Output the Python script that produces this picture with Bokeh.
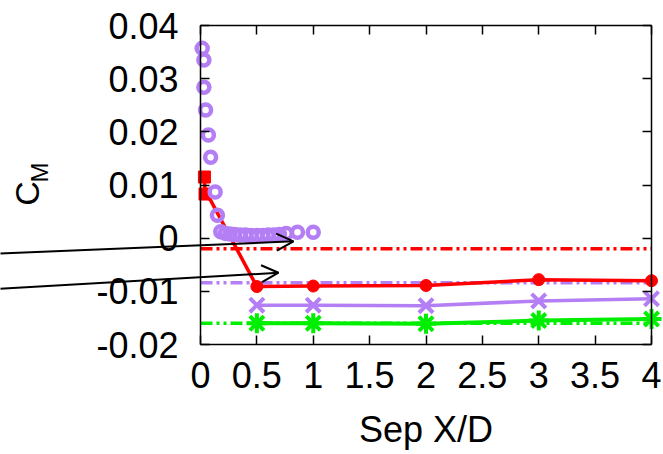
import math
from bokeh.plotting import figure
from bokeh.models import (Range1d, LinearAxis, FixedTicker, Label, Arrow, OpenHead,
                          CustomJSTickFormatter)
from bokeh.embed import file_html
from bokeh.resources import INLINE

# ---------------- data ----------------
x_ticks = [0, 0.5, 1, 1.5, 2, 2.5, 3, 3.5, 4]
x_tick_labels = ["0", "0.5", "1", "1.5", "2", "2.5", "3", "3.5", "4"]
y_ticks = [-0.02, -0.01, 0, 0.01, 0.02, 0.03, 0.04]
y_tick_labels = ["-0.02", "-0.01", "0", "0.01", "0.02", "0.03", "0.04"]
x_min, x_max = 0.0, 4.0
y_min, y_max = -0.02, 0.04

# purple open circles (near field)
circ_x = [0.015, 0.03, 0.03, 0.045, 0.07, 0.09, 0.13, 0.15, 0.18, 0.22, 0.26, 0.3,
          0.35, 0.4, 0.45, 0.5, 0.55, 0.6, 0.65, 0.7, 0.76, 0.86, 1.0]
circ_y = [0.0357, 0.0335, 0.0284, 0.0241, 0.0194, 0.0152, 0.0087, 0.0043, 0.0012,
          0.0009, 0.0008, 0.0007, 0.0006, 0.0006, 0.0005, 0.0005, 0.0005, 0.0006,
          0.0006, 0.0007, 0.0009, 0.0011, 0.0011]

# red line with markers
red_x = [0.035, 0.04, 0.09, 0.5, 1.0, 2.0, 3.0, 4.0]
red_y = [0.0115, 0.0083, 0.0071, -0.0091, -0.0090, -0.0089, -0.0078, -0.0080]
red_square_idx = [0, 1]
red_circle_idx = [3, 4, 5, 6, 7]

# purple x markers
px_x = [0.5, 1.0, 2.0, 3.0, 4.0]
px_y = [-0.0126, -0.0126, -0.0127, -0.0118, -0.0114]

# green asterisks
gr_x = [0.5, 1.0, 2.0, 3.0, 4.0]
gr_y = [-0.0160, -0.0160, -0.0161, -0.0155, -0.0152]

# horizontal dash-dot reference levels
ref_levels = [-0.0020, -0.0084, -0.0160]

# annotation arrows (start x, start y, end x, end y)
arrow_x0 = [-1.78, -1.78]
arrow_y0 = [-0.0029, -0.0095]
arrow_x1 = [0.825, 0.692]
arrow_y1 = [-0.0006, -0.0065]

# ---------------- style / layout ----------------
RED = "#FF0000"
PURPLE = "#B47EF4"
GREEN = "#00EE00"
FONT = "Liberation Sans"
FS = "36px"
ref_colors = [RED, PURPLE, GREEN]

W, H = 663, 454
# pixel box of the axes inside the canvas
BOX_L, BOX_R, BOX_T, BOX_B = 200, 651, 25, 344
sx = (BOX_R - BOX_L) / (x_max - x_min)
sy = (BOX_B - BOX_T) / (y_max - y_min)

p = figure(width=W, height=H, output_backend="svg", toolbar_location=None,
           x_range=Range1d(x_min - BOX_L / sx, x_max + (W - BOX_R) / sx),
           y_range=Range1d(y_min - (H - BOX_B) / sy, y_max + BOX_T / sy),
           min_border=0)
p.background_fill_color = "white"
p.border_fill_color = "white"
p.outline_line_color = None
p.grid.visible = False


def style_axis(ax, ticks):
    ax.ticker = FixedTicker(ticks=ticks)
    ax.major_tick_in = 9
    ax.major_tick_out = 0
    ax.minor_tick_line_color = None
    ax.axis_line_color = "black"
    ax.axis_line_width = 1.5
    ax.major_tick_line_width = 1.5
    ax.major_tick_line_color = "black"


xa = p.xaxis[0]
ya = p.yaxis[0]
style_axis(xa, x_ticks)
style_axis(ya, y_ticks)
xa.fixed_location = y_min
ya.fixed_location = x_min
xa.bounds = (x_min, x_max)
ya.bounds = (y_min, y_max)
for ax, ticks, labels in ((xa, x_ticks, x_tick_labels), (ya, y_ticks, y_tick_labels)):
    ax.major_label_overrides = {t: l for t, l in zip(ticks, labels)}
    ax.major_label_text_font = FONT
    ax.major_label_text_font_size = FS
    ax.major_label_text_color = "black"
xa.major_label_standoff = 17
ya.major_label_standoff = 22
xa.axis_label = "Sep X/D"
xa.axis_label_text_font = FONT
xa.axis_label_text_font_size = FS
xa.axis_label_text_font_style = "normal"
xa.axis_label_text_color = "black"
xa.axis_label_standoff = 18

# mirror ticks on top/right (no labels)
blank = CustomJSTickFormatter(code="return ''")
top = LinearAxis(formatter=blank, fixed_location=y_max, bounds=(x_min, x_max))
right = LinearAxis(formatter=blank, fixed_location=x_max, bounds=(y_min, y_max))
style_axis(top, x_ticks)
style_axis(right, y_ticks)
for ax in (top, right):
    ax.major_label_standoff = 0
    ax.major_label_text_font_size = "1px"
p.add_layout(top, "above")
p.add_layout(right, "right")

# dash-dot reference lines (span the axes box only)
for lvl, col in zip(ref_levels, ref_colors):
    p.line([x_min, x_max], [lvl, lvl], line_color=col, line_width=3.5,
           line_dash="12 4 3 4 3 4")

# red series
p.line(red_x, red_y, line_color=RED, line_width=3.5)
p.scatter([red_x[i] for i in red_square_idx], [red_y[i] for i in red_square_idx],
          marker="square", size=12, fill_color=RED, line_color=RED)
p.scatter([red_x[i] for i in red_circle_idx], [red_y[i] for i in red_circle_idx],
          marker="circle", size=12, fill_color=RED, line_color=RED)

# purple x series
p.line(px_x, px_y, line_color=PURPLE, line_width=3.5)
p.scatter(px_x, px_y, marker="x", size=20, line_color=PURPLE, line_width=4)

# green series
p.line(gr_x, gr_y, line_color=GREEN, line_width=4)
p.scatter(gr_x, gr_y, marker="asterisk", size=20, line_color=GREEN, line_width=4)

# purple circles
p.scatter(circ_x, circ_y, marker="circle", size=11, fill_color=None,
          line_color=PURPLE, line_width=4.5)

# arrows
for x0, y0, x1, y1 in zip(arrow_x0, arrow_y0, arrow_x1, arrow_y1):
    p.add_layout(Arrow(x_start=x0, y_start=y0, x_end=x1, y_end=y1,
                       line_color="black", line_width=2,
                       end=OpenHead(size=17, line_color="black", line_width=2)))


# y axis label C_M (rotated), placed by canvas pixels
def fx(cx):
    return x_min + (cx - BOX_L) / sx


def fy(cy):
    return y_max - (cy - BOX_T) / sy


p.add_layout(Label(x=fx(26.5), y=fy(193), text="C", angle=math.pi / 2,
                   text_font=FONT, text_font_size="34px", text_color="black",
                   text_align="center", text_baseline="middle"))
p.add_layout(Label(x=fx(39), y=fy(172), text="M", angle=math.pi / 2,
                   text_font=FONT, text_font_size="24px", text_color="black",
                   text_align="center", text_baseline="middle"))

open("out.html", "w").write(file_html(p, INLINE))
